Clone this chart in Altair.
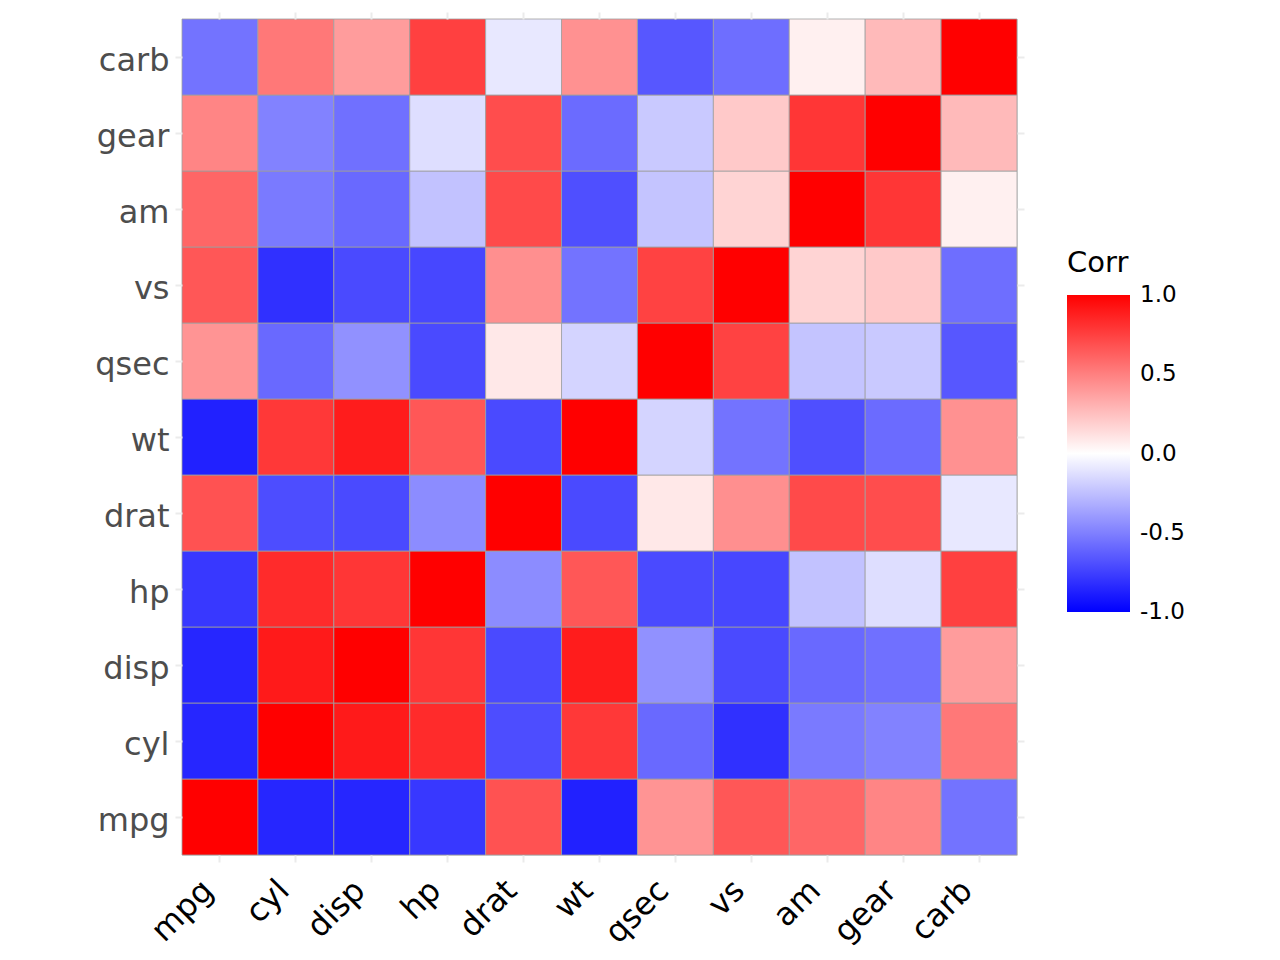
import altair as alt
import pandas as pd

# mtcars variables, in matrix order
variables = ["mpg", "cyl", "disp", "hp", "drat", "wt", "qsec", "vs", "am", "gear", "carb"]

# Pearson correlation rows (rounded to two decimals)
r_mpg  = [1.00, -0.85, -0.85, -0.78, 0.68, -0.87, 0.42, 0.66, 0.60, 0.48, -0.55]
r_cyl  = [-0.85, 1.00, 0.90, 0.83, -0.70, 0.78, -0.59, -0.81, -0.52, -0.49, 0.53]
r_disp = [-0.85, 0.90, 1.00, 0.79, -0.71, 0.89, -0.43, -0.71, -0.59, -0.56, 0.39]
r_hp   = [-0.78, 0.83, 0.79, 1.00, -0.45, 0.66, -0.71, -0.72, -0.24, -0.13, 0.75]
r_drat = [0.68, -0.70, -0.71, -0.45, 1.00, -0.71, 0.09, 0.44, 0.71, 0.70, -0.09]
r_wt   = [-0.87, 0.78, 0.89, 0.66, -0.71, 1.00, -0.17, -0.55, -0.69, -0.58, 0.43]
r_qsec = [0.42, -0.59, -0.43, -0.71, 0.09, -0.17, 1.00, 0.74, -0.23, -0.21, -0.66]
r_vs   = [0.66, -0.81, -0.71, -0.72, 0.44, -0.55, 0.74, 1.00, 0.17, 0.21, -0.57]
r_am   = [0.60, -0.52, -0.59, -0.24, 0.71, -0.69, -0.23, 0.17, 1.00, 0.79, 0.06]
r_gear = [0.48, -0.49, -0.56, -0.13, 0.70, -0.58, -0.21, 0.21, 0.79, 1.00, 0.27]
r_carb = [-0.55, 0.53, 0.39, 0.75, -0.09, 0.43, -0.66, -0.57, 0.06, 0.27, 1.00]

rows = [r_mpg, r_cyl, r_disp, r_hp, r_drat, r_wt, r_qsec, r_vs, r_am, r_gear, r_carb]
# Legend breaks; the outer two sit just inside the limits so their labels stay centred
legend_ticks = [-0.9999, -0.5, 0.0, 0.5, 0.9999]

records = []
for yi, row in zip(variables, rows):
    for xi, v in zip(variables, row):
        records.append({"Var1": xi, "Var2": yi, "Corr": v})
df = pd.DataFrame(records)

FONT = "DejaVu Sans"
GRID = "#EBEBEB"

x_scale = alt.Scale(domain=variables, paddingInner=0, paddingOuter=0)
y_scale = alt.Scale(domain=variables[::-1], paddingInner=0, paddingOuter=0)

base = alt.Chart(df)

tiles = base.mark_rect(stroke="#A0A0A0", strokeWidth=0.8).encode(
    x=alt.X("Var1:N", scale=x_scale, sort=variables,
            axis=alt.Axis(title=None, labelAngle=-45, labelAlign="right",
                          labelBaseline="bottom", labelFontSize=32, labelColor="black",
                          labelFont=FONT, labelPadding=35, tickSize=7, tickWidth=2,
                          tickColor=GRID, domain=False, grid=False, labelOverlap=False)),
    y=alt.Y("Var2:N", scale=y_scale, sort=variables[::-1],
            axis=alt.Axis(title=None, labelFontSize=32, labelColor="#4D4D4D",
                          labelFont=FONT, labelPadding=6, labelOffset=4, tickSize=7,
                          tickWidth=2, tickColor=GRID, domain=False, grid=False)),
    color=alt.Color("Corr:Q",
                    scale=alt.Scale(domain=[-1, 0, 1], range=["blue", "white", "red"],
                                    interpolate="rgb"),
                    legend=alt.Legend(title="Corr", orient="none", legendX=885, legendY=230,
                                      values=legend_ticks,
                                      labelExpr="datum.value < 0 ? '-' + format(-datum.value, '.1f') : format(datum.value, '.1f')",
                                      gradientLength=317, gradientThickness=63,
                                      gradientStrokeWidth=0, labelBaseline="middle",
                                      labelOverlap=False,
                                      labelFontSize=23, labelFont=FONT, labelColor="black",
                                      labelOffset=10, titleFontSize=29, titleFont=FONT,
                                      titleFontWeight="normal", titleColor="black",
                                      titlePadding=17)),
)

# Tick-only axes on the top and right edges
top_right = base.mark_rect(opacity=0).encode(
    x=alt.X("Var1:N", scale=x_scale, sort=variables,
            axis=alt.Axis(orient="top", title=None, labels=False, tickSize=7,
                          tickWidth=2, tickColor=GRID, domain=False, grid=False)),
    y=alt.Y("Var2:N", scale=y_scale, sort=variables[::-1],
            axis=alt.Axis(orient="right", title=None, labels=False, tickSize=7,
                          tickWidth=2, tickColor=GRID, domain=False, grid=False)),
)

chart = alt.layer(tiles, top_right).resolve_axis(x="independent", y="independent").properties(
    width=835,
    height=836,
    autosize=alt.AutoSizeParams(type="none"),
    padding={"left": 182, "top": 19, "right": 263, "bottom": 105},
).configure_view(stroke=None).configure(background="white")

chart.save("out.html", embed_options={"renderer": "svg", "actions": False})
